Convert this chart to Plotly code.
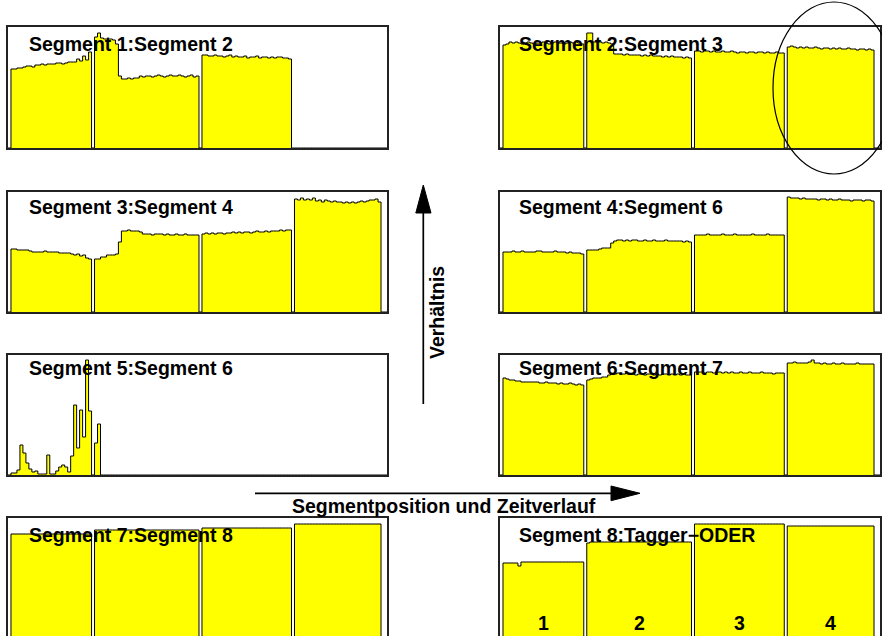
import numpy as np
import plotly.graph_objects as go

# x axis: run index, 127 runs per panel; each segment block starts at these runs
N_RUNS = 127
SEG_FIRST_RUN = [1, 29, 65, 96]
SEG_LABELS = ["1", "2", "3", "4"]

TITLES = [
    "Segment 1:Segment 2", "Segment 2:Segment 3",
    "Segment 3:Segment 4", "Segment 4:Segment 6",
    "Segment 5:Segment 6", "Segment 6:Segment 7",
    "Segment 7:Segment 8", "Segment 8:Tagger\u2212ODER",
]

# ratio histograms, one list per segment block (arbitrary units)
s1_s2 = [
    [79, 79, 80, 80, 81, 82, 82, 81, 83, 83, 84, 83, 84, 84, 84, 85, 85, 84, 85, 86,
     86, 86, 89, 87, 92, 88, 96],
    [111, 115, 110, 109, 109, 109, 108, 104, 72, 69, 69, 70, 69, 70, 70, 72, 71, 72,
     72, 71, 72, 73, 72, 71, 72, 73, 72, 72, 73, 72, 71, 72, 73, 71, 72],
    [93, 93, 92, 92, 93, 92, 92, 91, 92, 93, 91, 92, 91, 91, 92, 90, 91, 91, 92, 90,
     91, 91, 90, 91, 90, 91, 91, 90, 90, 89],
    [],
]
s2_s3 = [
    [103, 104, 106, 105, 106, 105, 104, 105, 106, 105, 104, 105, 105, 106, 105, 104,
     105, 106, 105, 105, 104, 105, 106, 105, 106, 105, 104],
    [115, 115, 106, 106, 106, 105, 106, 105, 104, 94, 94, 94, 93, 94, 93, 93, 93, 93,
     92, 93, 92, 93, 92, 92, 92, 91, 92, 91, 92, 91, 91, 91, 90, 91, 90],
    [97, 97, 96, 97, 97, 96, 97, 96, 96, 97, 96, 96, 97, 96, 95, 96, 96, 95, 96, 96,
     95, 96, 96, 95, 96, 95, 95, 96, 95, 95],
    [101, 102, 101, 100, 101, 100, 101, 100, 100, 101, 100, 99, 100, 100, 99, 100, 99,
     100, 99, 99, 100, 99, 99, 98, 99, 99, 98, 99, 98],
]
s3_s4 = [
    [63, 63, 62, 62, 62, 62, 61, 60, 60, 60, 60, 61, 60, 60, 60, 60, 59, 59, 59, 59,
     58, 57, 58, 56, 57, 54, 53],
    [53, 53, 55, 55, 57, 57, 57, 58, 70, 81, 81, 82, 81, 81, 81, 80, 78, 78, 78, 77,
     78, 78, 78, 77, 78, 77, 77, 78, 77, 77, 78, 77, 77, 77, 77],
    [78, 79, 78, 79, 78, 79, 79, 78, 79, 79, 80, 79, 80, 79, 80, 80, 79, 80, 81, 80,
     80, 81, 80, 81, 81, 81, 82, 81, 82, 82],
    [113, 112, 114, 112, 113, 112, 114, 111, 112, 110, 112, 111, 110, 111, 110, 110,
     109, 110, 109, 110, 109, 110, 111, 110, 111, 112, 112, 113, 110],
]
s4_s6 = [
    [60, 60, 60, 61, 60, 60, 61, 60, 60, 60, 60, 61, 61, 60, 60, 60, 60, 61, 60, 60,
     60, 59, 60, 59, 59, 59, 58],
    [62, 62, 62, 62, 63, 64, 64, 64, 69, 71, 72, 72, 71, 72, 71, 72, 72, 71, 71, 72,
     71, 71, 72, 71, 71, 71, 72, 71, 71, 71, 71, 71, 70, 71, 70],
    [77, 77, 77, 77, 78, 77, 77, 77, 77, 78, 77, 77, 77, 78, 77, 77, 77, 77, 77, 78,
     77, 77, 77, 77, 78, 77, 77, 77, 77, 77],
    [115, 114, 114, 114, 113, 114, 113, 113, 113, 113, 112, 113, 113, 112, 113, 112,
     112, 113, 112, 112, 112, 111, 112, 112, 112, 111, 112, 112, 111],
]
s5_s6 = [
    [2, 2, 5, 30, 22, 12, 6, 3, 4, 1, 1, 1, 20, 1, 1, 4, 8, 10, 8, 3,
     19, 70, 27, 65, 38, 115, 64],
    [32, 51],
    [],
    [],
]
s6_s7 = [
    [97, 96, 95, 95, 94, 94, 93, 93, 93, 93, 93, 93, 92, 92, 93, 92, 92, 92, 91, 92,
     91, 91, 92, 91, 90, 91, 90],
    [95, 96, 97, 97, 97, 98, 98, 100, 101, 101, 102, 101, 101, 102, 101, 101, 100, 101,
     101, 100, 101, 101, 100, 101, 100, 101, 101, 100, 101, 100, 101, 100, 101, 100, 100],
    [103, 103, 103, 102, 103, 103, 102, 103, 103, 102, 103, 102, 103, 102, 102, 103,
     102, 102, 103, 102, 102, 102, 103, 102, 102, 102, 101, 102, 102, 102],
    [112, 112, 113, 112, 112, 112, 112, 113, 115, 112, 112, 111, 112, 111, 111, 112,
     111, 111, 112, 111, 111, 111, 111, 112, 111, 111, 111, 111, 111],
]
s7_s8 = [
    [105] * 27,
    [109] * 35,
    [111] * 30,
    [115] * 29,
]
s8_tagger = [
    [76, 76, 76, 76, 76, 73, 77, 77, 77, 77, 77, 77, 77, 77, 77, 77, 77, 77, 77, 77,
     77, 77, 77, 77, 77, 77, 77],
    [96] + [97] * 34,
    [115] * 30,
    [113] * 29,
]

PANEL_DATA = [s1_s2, s2_s3, s3_s4, s4_s6, s5_s6, s6_s7, s7_s8, s8_tagger]

W, H = 882, 636
def px(x):
    return x / W
def py(y):
    return 1 - y / H

COL_X = [(8, 387), (500, 880)]
ROW_Y = [(27, 148), (192, 312), (355, 475), (518, 636)]
ROW_RANGE = [[0, 121], [0, 120], [0, 120], [3, 121]]
TITLE_Y = [43.5, 206.5, 368.5, 535]
TITLE_X = [27, 517]

FONT = dict(family="Liberation Sans, Arial, sans-serif", size=19.5, color="black", weight="bold")

fig = go.Figure()
layout = {}
annotations = []

for i, (title, segs) in enumerate(zip(TITLES, PANEL_DATA)):
    row, col = divmod(i, 2)
    n = "" if i == 0 else str(i + 1)
    counts = np.zeros(N_RUNS)
    for first, vals in zip(SEG_FIRST_RUN, segs):
        counts[first:first + len(vals)] = vals
    edges = np.arange(N_RUNS + 1)
    fig.add_trace(go.Scatter(
        x=edges, y=np.append(counts, counts[-1]),
        xaxis="x" + n, yaxis="y" + n,
        mode="lines", line=dict(shape="hv", color="black", width=1),
        fill="tozeroy", fillcolor="#ffff00",
        hoverinfo="skip", showlegend=False,
    ))
    last_row = row == 3
    layout["xaxis" + n] = dict(
        domain=[px(COL_X[col][0]), px(COL_X[col][1])], anchor="y" + n,
        range=[0, N_RUNS], showgrid=False, zeroline=False, showticklabels=False,
        ticks="", showline=True, mirror=not last_row, side="top" if last_row else "bottom",
        linecolor="#222", linewidth=1.5,
    )
    layout["yaxis" + n] = dict(
        domain=[max(0, py(ROW_Y[row][1])), py(ROW_Y[row][0])], anchor="x" + n,
        range=ROW_RANGE[row], showgrid=False, zeroline=False, showticklabels=False,
        ticks="", showline=True, mirror=True, linecolor="#222", linewidth=1.5,
    )
    annotations.append(dict(
        text=title, xref="paper", yref="paper", x=px(TITLE_X[col]), y=py(TITLE_Y[row]),
        xanchor="left", yanchor="middle", showarrow=False, font=FONT,
    ))

# segment numbers in the last panel
for first, vals, lab in zip(SEG_FIRST_RUN, s8_tagger, SEG_LABELS):
    annotations.append(dict(
        text=lab, xref="x8", yref="y8", x=first + len(vals) / 2, y=16,
        xanchor="center", yanchor="middle", showarrow=False, font=FONT,
    ))

annotations.append(dict(
    text="Verhältnis", xref="paper", yref="paper", x=px(437), y=py(313),
    textangle=-90, showarrow=False, font=FONT, xanchor="center", yanchor="middle",
))
annotations.append(dict(
    text="Segmentposition und Zeitverlauf", xref="paper", yref="paper",
    x=px(444), y=py(505.5), showarrow=False, font=FONT, xanchor="center", yanchor="middle",
))

shapes = [
    # vertical arrow
    dict(type="line", xref="paper", yref="paper", x0=px(423.3), x1=px(423.3),
         y0=py(404), y1=py(210), line=dict(color="black", width=1.7)),
    dict(type="path", xref="paper", yref="paper",
         path=f"M {px(423.3)},{py(185)} L {px(415.8)},{py(213)} L {px(431)},{py(213)} Z",
         fillcolor="black", line=dict(color="black", width=1)),
    # horizontal arrow
    dict(type="line", xref="paper", yref="paper", x0=px(255), x1=px(615),
         y0=py(493.3), y1=py(493.3), line=dict(color="black", width=1.7)),
    dict(type="path", xref="paper", yref="paper",
         path=f"M {px(640)},{py(493.3)} L {px(611)},{py(486)} L {px(611)},{py(500.7)} Z",
         fillcolor="black", line=dict(color="black", width=1)),
    # ellipse
    dict(type="circle", xref="paper", yref="paper", x0=px(773), x1=px(895),
         y0=py(174), y1=py(2), line=dict(color="black", width=1.2)),
]

fig.update_layout(
    **layout,
    annotations=annotations,
    shapes=shapes,
    width=W, height=H,
    margin=dict(l=0, r=0, t=0, b=0),
    paper_bgcolor="white", plot_bgcolor="white",
)

# drop the browser's default page margin so the figure fills the window
fig.write_html(
    "out.html",
    config={"displayModeBar": False},
    post_script="document.body.style.margin='0';document.body.style.overflow='hidden';",
)
